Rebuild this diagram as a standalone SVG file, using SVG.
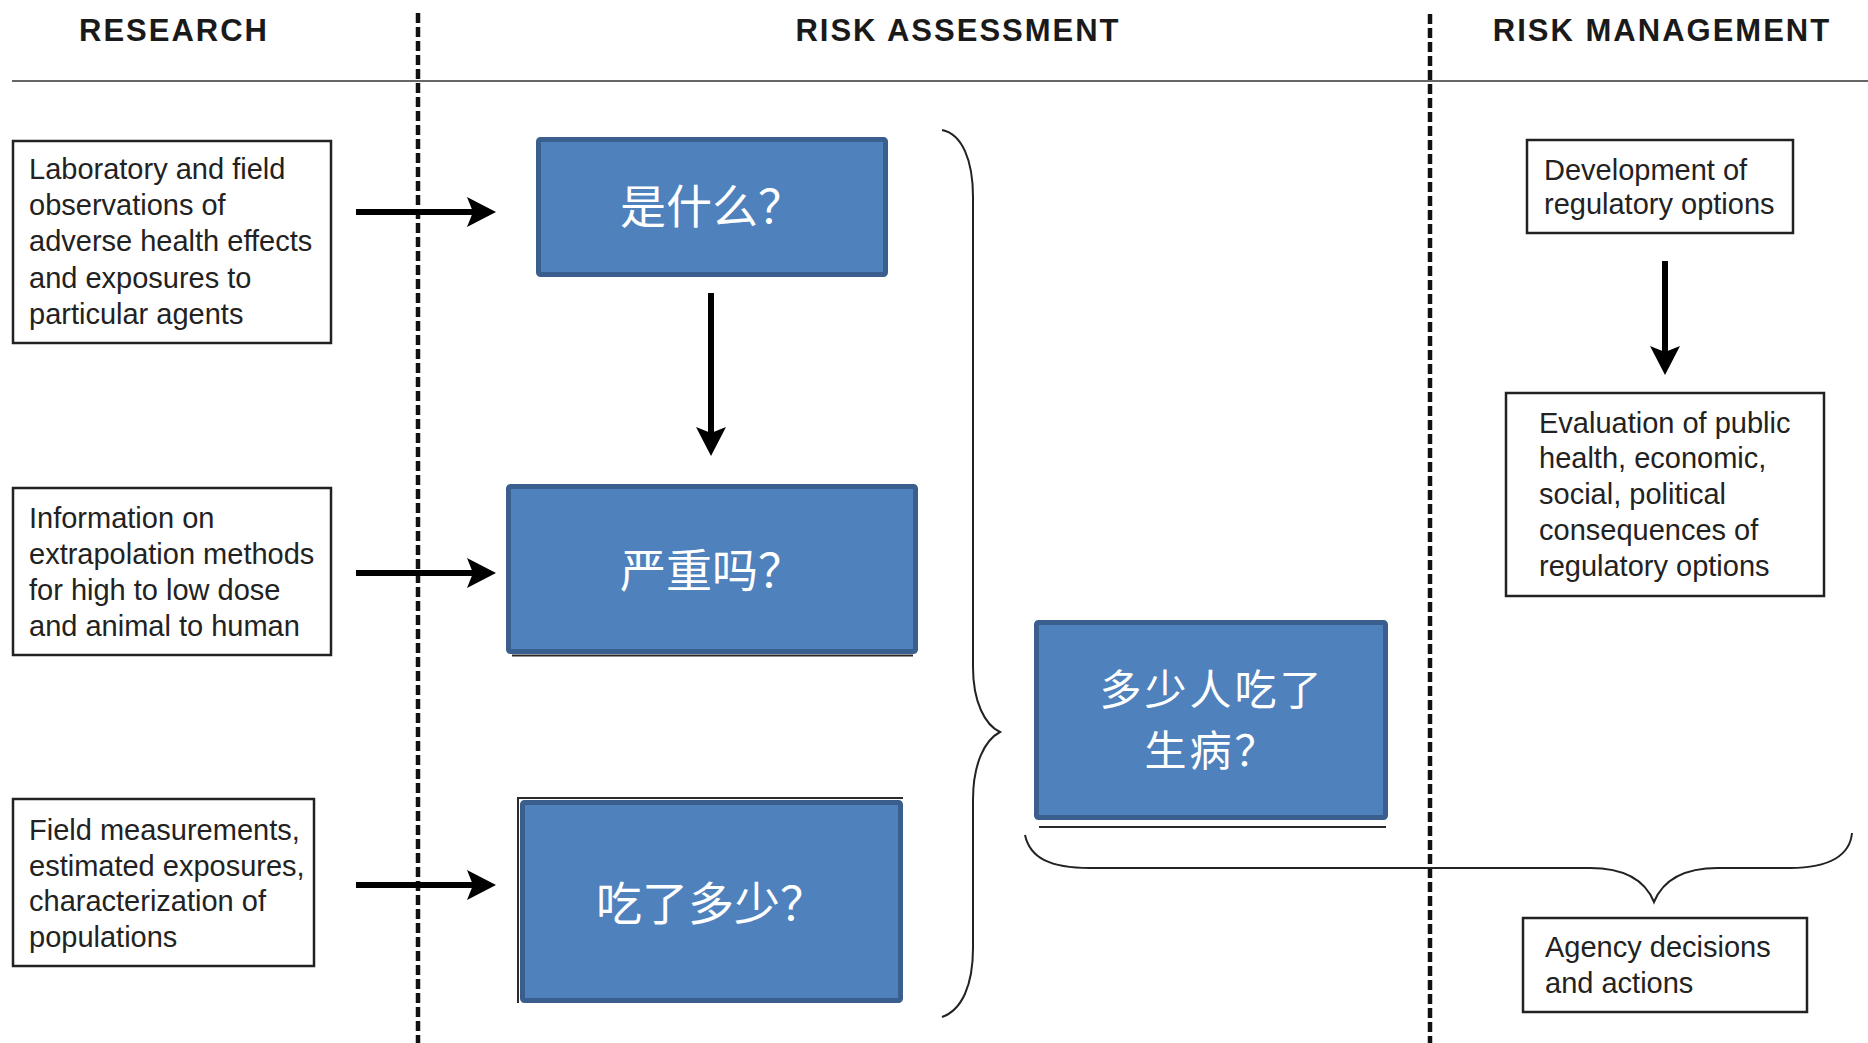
<svg xmlns="http://www.w3.org/2000/svg" width="1868" height="1043" viewBox="0 0 1868 1043">
  <style>
    .hdr { font-family: "Liberation Sans", Arial, sans-serif; font-weight: bold; font-size: 31px; letter-spacing: 2px; fill: #1a1a1a; text-anchor: middle; }
    .txt { font-family: "Liberation Sans", Arial, sans-serif; font-size: 29px; fill: #222; }
    .box { fill: #fff; stroke: #222; stroke-width: 2.5; }
    .blue { fill: #4F81BD; stroke: #3A5F8E; stroke-width: 5; }
    .cn { font-family: "Noto Sans CJK SC", sans-serif; font-size: 46px; fill: #fff; text-anchor: middle; }
    .cn2 { font-size: 42px; letter-spacing: 3px; }
    .edge { stroke: #2a2a2a; stroke-width: 2; fill: none; }
    .shaft { stroke: #000; stroke-width: 6; fill: none; }
    .brace { stroke: #222; stroke-width: 2; fill: none; }
    .divider { stroke: #111; stroke-width: 4.5; stroke-dasharray: 10 4; }
  </style>
  <defs>
    <marker id="head" viewBox="-16 -16 31 32" refX="0" refY="0" markerWidth="31" markerHeight="32" markerUnits="userSpaceOnUse" orient="auto">
      <path d="M14,0 L-15,-15 L-9,0 L-15,15 Z" fill="#000"/>
    </marker>
  </defs>

  <rect width="1868" height="1043" fill="#fff"/>

  <!-- column headings and dividers -->
  <g id="headers">
    <text class="hdr" x="174" y="41">RESEARCH</text>
    <text class="hdr" x="958" y="41">RISK ASSESSMENT</text>
    <text class="hdr" x="1662" y="41">RISK MANAGEMENT</text>
    <line x1="12" y1="81" x2="1868" y2="81" stroke="#666" stroke-width="2"/>
    <line class="divider" x1="418" y1="13" x2="418" y2="1043"/>
    <line class="divider" x1="1430" y1="14" x2="1430" y2="1043"/>
  </g>

  <!-- research inputs -->
  <g id="lab-observations">
    <rect class="box" x="13" y="141" width="318" height="202"/>
    <text class="txt" x="29" y="179">Laboratory and field</text>
    <text class="txt" x="29" y="215">observations of</text>
    <text class="txt" x="29" y="251">adverse health effects</text>
    <text class="txt" x="29" y="288">and exposures to</text>
    <text class="txt" x="29" y="324">particular agents</text>
  </g>
  <g id="extrapolation-info">
    <rect class="box" x="13" y="488" width="318" height="167"/>
    <text class="txt" x="29" y="528">Information on</text>
    <text class="txt" x="29" y="564">extrapolation methods</text>
    <text class="txt" x="29" y="600">for high to low dose</text>
    <text class="txt" x="29" y="636">and animal to human</text>
  </g>
  <g id="field-measurements">
    <rect class="box" x="13" y="799" width="301" height="167"/>
    <text class="txt" x="29" y="840">Field measurements,</text>
    <text class="txt" x="29" y="876">estimated exposures,</text>
    <text class="txt" x="29" y="911">characterization of</text>
    <text class="txt" x="29" y="947">populations</text>
  </g>

  <!-- risk assessment steps -->
  <g id="hazard-id">
    <rect class="blue" x="538.5" y="139.5" width="347" height="135" rx="2"/>
    <text class="cn" x="712" y="223">是什么？</text>
  </g>
  <g id="dose-response">
    <line class="edge" x1="512" y1="655.5" x2="913" y2="655.5"/>
    <rect class="blue" x="508.5" y="486.5" width="407" height="165" rx="2"/>
    <text class="cn" x="712" y="587">严重吗？</text>
  </g>
  <g id="exposure">
    <path class="edge" d="M518,1003 L518,798 L903,798"/>
    <rect class="blue" x="522.5" y="802.5" width="378" height="198" rx="2"/>
    <text class="cn" x="711" y="920">吃了多少？</text>
  </g>
  <g id="risk-characterization">
    <line class="edge" x1="1039" y1="827" x2="1386" y2="827"/>
    <rect class="blue" x="1036.5" y="622.5" width="349" height="195" rx="2"/>
    <text class="cn cn2" x="1212" y="705">多少人吃了</text>
    <text class="cn cn2" x="1212" y="766">生病？</text>
  </g>

  <!-- risk management -->
  <g id="regulatory-options">
    <rect class="box" x="1527" y="140" width="266" height="93"/>
    <text class="txt" x="1544" y="180">Development of</text>
    <text class="txt" x="1544" y="214">regulatory options</text>
  </g>
  <g id="consequences">
    <rect class="box" x="1506" y="393" width="318" height="203"/>
    <text class="txt" x="1539" y="433">Evaluation of public</text>
    <text class="txt" x="1539" y="468">health, economic,</text>
    <text class="txt" x="1539" y="504">social, political</text>
    <text class="txt" x="1539" y="540">consequences of</text>
    <text class="txt" x="1539" y="576">regulatory options</text>
  </g>
  <g id="agency-decisions">
    <rect class="box" x="1523" y="918" width="284" height="94"/>
    <text class="txt" x="1545" y="957">Agency decisions</text>
    <text class="txt" x="1545" y="993">and actions</text>
  </g>

  <!-- connectors: arrows and grouping braces -->
  <g id="connectors">
    <line class="shaft" x1="356" y1="212" x2="482" y2="212" marker-end="url(#head)"/>
    <line class="shaft" x1="356" y1="573" x2="482" y2="573" marker-end="url(#head)"/>
    <line class="shaft" x1="356" y1="885" x2="482" y2="885" marker-end="url(#head)"/>
    <line class="shaft" x1="711" y1="293" x2="711" y2="442" marker-end="url(#head)"/>
    <line class="shaft" x1="1665" y1="261" x2="1665" y2="361" marker-end="url(#head)"/>
    <path class="brace" d="M942,130 C962,134 973,160 973,197 L973,667 C973,702 985,725 1000,732 C985,740 973,763 973,800 L973,948 C973,985 962,1010 942,1017"/>
    <path class="brace" d="M1025,835 C1030,858 1050,868 1090,868 L1590,868 C1625,868 1645,880 1654,902 C1663,880 1683,868 1718,868 L1790,868 C1830,868 1850,855 1852,833"/>
  </g>
</svg>
